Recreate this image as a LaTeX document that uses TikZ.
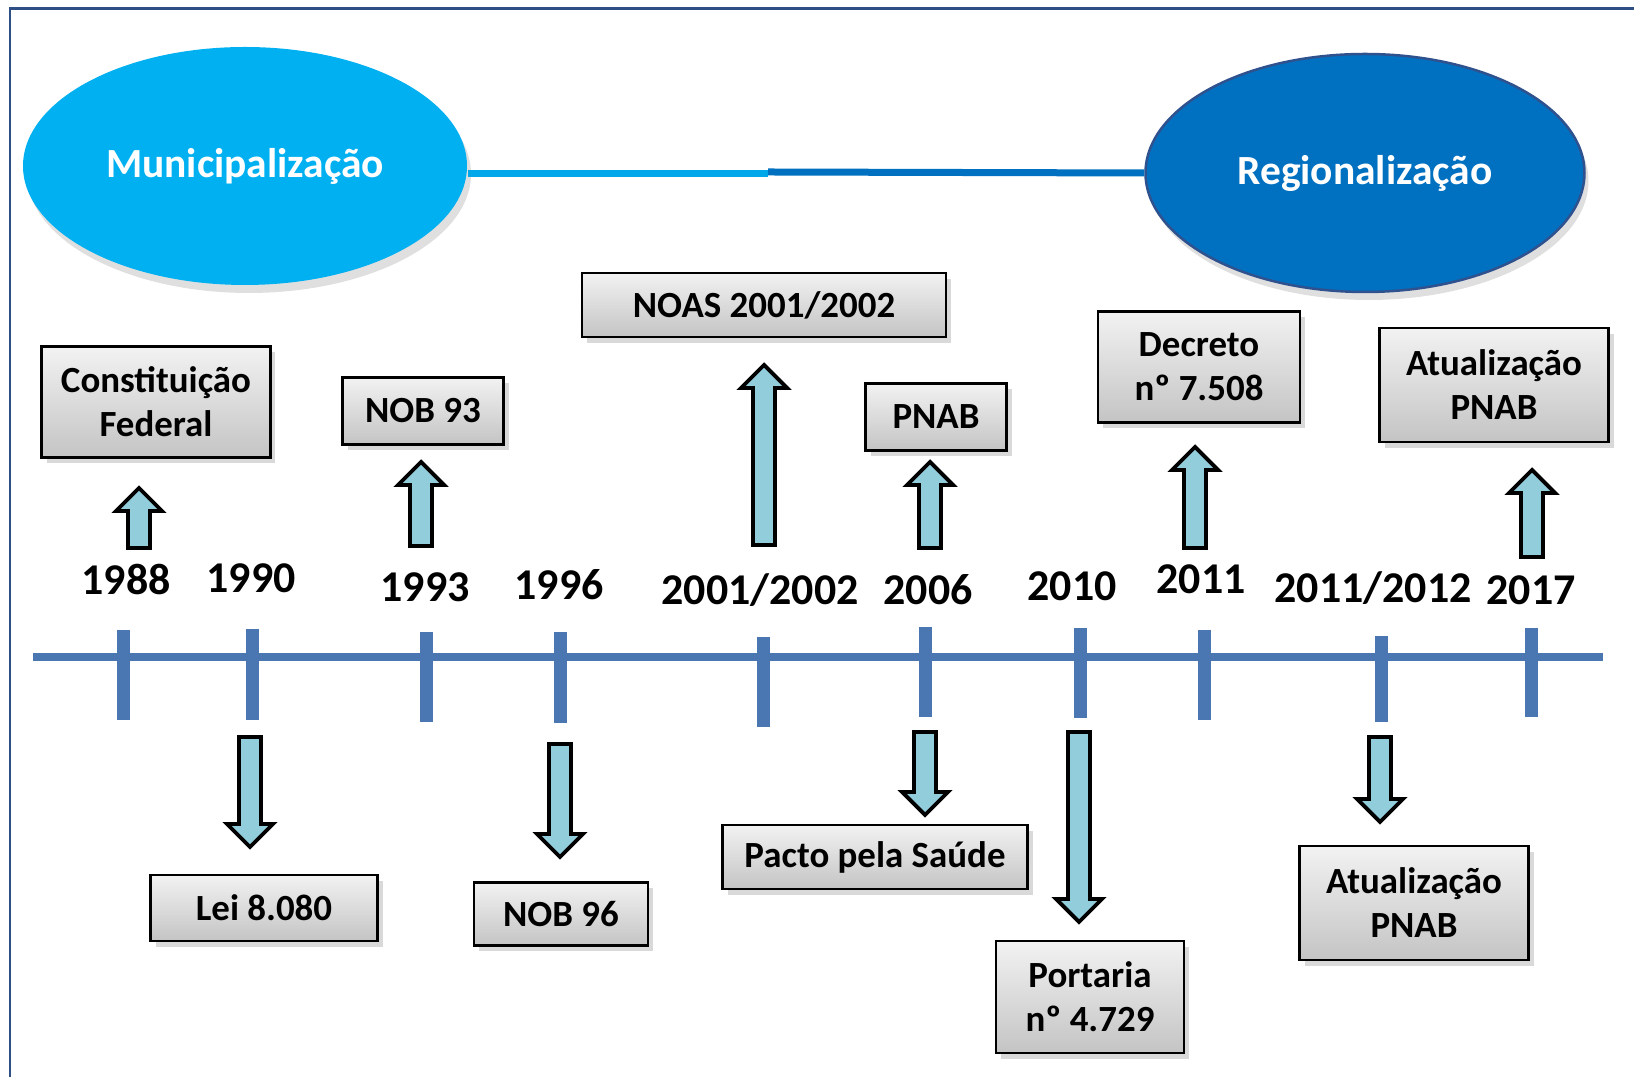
\documentclass[tikz,border=0pt]{standalone}
\usepackage{fontspec}
\setmainfont{Carlito}
\usepackage{tikz}
\usetikzlibrary{calc,shapes.geometric,shadows}
\definecolor{muniBlue}{HTML}{00B0F0}
\definecolor{regiBlue}{HTML}{0070C0}
\definecolor{regiEdge}{HTML}{2F528F}
\definecolor{lineBlue}{HTML}{4A76B2}
\definecolor{frameBlue}{HTML}{2E4F85}
\definecolor{arrFill}{HTML}{92CDDC}
\definecolor{boxTop}{HTML}{F2F2F2}
\definecolor{boxBot}{HTML}{C4C4C4}

% block arrow from tail #1 to tip #2
\newcommand{\blkarrow}[2]{%
  \draw[blk] let \p1=(#1), \p2=(#2), \p3=($(#2)!2.3mm!(#1)$) in
    (\x1-1.1mm,\y1) -- (\x1-1.1mm,\y3) -- (\x1-2.3mm,\y3) -- (\p2)
    -- (\x1+2.3mm,\y3) -- (\x1+1.1mm,\y3) -- (\x1+1.1mm,\y1) -- cycle;}

\begin{document}
\begin{tikzpicture}[x=0.1mm, y=-0.1mm,
  ell/.style={ellipse, text=white, font=\bfseries\fontsize{11.8}{14}\selectfont,
    drop shadow={opacity=0.25, shadow xshift=0.4mm, shadow yshift=-0.8mm}},
  box/.style={rectangle, draw=black, line width=0.25mm, top color=boxTop, bottom color=boxBot,
    align=center, inner sep=0pt, font=\bfseries\fontsize{10.5}{12.5}\selectfont,
    drop shadow={opacity=0.3, shadow xshift=0.5mm, shadow yshift=-0.6mm}},
  year/.style={font=\bfseries\fontsize{12.5}{14}\selectfont, inner sep=0pt},
  blk/.style={draw=black, line width=1.1pt, fill=arrFill},
  tick/.style={lineBlue, line width=1.3mm}]
\useasboundingbox (0,0) rectangle (1634,1077);
% --- frame ---
\draw[frameBlue, line width=0.3mm] (10,1100) -- (10,9) -- (1660,9);
% --- ellipses ---
\node[ell, fill=muniBlue, minimum width=44.4mm, minimum height=23.8mm] (muni) at (245,166) {Municipalização};
\node[ell, fill=regiBlue, draw=regiEdge, line width=0.25mm, minimum width=43.9mm, minimum height=23.8mm] (regi) at (1365,173) {Regionalização};
\coordinate (midA) at (768,174);
\coordinate (midB) at (768,172);
\draw[muniBlue!85!regiBlue, line width=0.7mm] (muni.east |- midA) -- (midA);
\draw[regiBlue, line width=0.7mm] (midB) -- (regi.west);
% --- timeline ---
\coordinate (tl0) at (33,657);
\coordinate (tl1) at (1603,657);
\draw[lineBlue, line width=0.8mm] (tl0) -- (tl1);
\foreach \x/\a/\b in {123/630/720, 252/629/720, 426/632/722, 560/632/723, 763/637/727,
  925/627/717, 1080/628/718, 1204/630/720, 1381/636/722, 1531/628/717}
  \draw[tick] (\x,\a) -- (\x,\b);
% --- years ---
\node[year] (y1988) at (126,580) {1988};
\node[year] (y1990) at (251,578) {1990};
\node[year] (y1993) at (425,587) {1993};
\node[year] (y1996) at (559,585) {1996};
\node[year] (y2001) at (760,590) {2001/2002};
\node[year] (y2006) at (928,590) {2006};
\node[year] (y2010) at (1072,586) {2010};
\node[year] (y2011) at (1201,579) {2011};
\node[year] (y2012) at (1373,588) {2011/2012};
\node[year] (y2017) at (1531,590) {2017};
% --- boxes above ---
\node[box, minimum width=22.9mm, minimum height=11.1mm] (cf) at (156,402) {Constituição\\Federal};
\node[box, minimum width=16.1mm, minimum height=6.7mm] (nob93) at (423,411) {NOB 93};
\node[box, minimum width=36.4mm, minimum height=6.4mm] (noas) at (764,305) {NOAS 2001/2002};
\node[box, minimum width=14.1mm, minimum height=6.7mm] (pnab) at (936,417) {PNAB};
\node[box, minimum width=20.2mm, minimum height=11.1mm] (decreto) at (1199,367) {Decreto\\nº 7.508};
\node[box, minimum width=22.9mm, minimum height=11.4mm] (atuA) at (1494,385) {Atualização\\PNAB};
% --- boxes below ---
\node[box, minimum width=22.7mm, minimum height=6.6mm] (lei) at (264,908) {Lei 8.080};
\node[box, minimum width=17.4mm, minimum height=6.3mm] (nob96) at (561,914) {NOB 96};
\node[box, minimum width=30.5mm, minimum height=6.4mm] (pacto) at (875,857) {Pacto pela Saúde};
\node[box, minimum width=18.8mm, minimum height=11.2mm] (portaria) at (1090,997) {Portaria\\nº 4.729};
\node[box, minimum width=22.9mm, minimum height=11.4mm] (atuB) at (1414,903) {Atualização\\PNAB};
% --- arrows up ---
\coordinate (s88) at (139,548);  \coordinate (t88) at (139,488);
\coordinate (s93) at (421,546);  \coordinate (t93) at (421,462);
\coordinate (s01) at (764,545);  \coordinate (t01) at (764,365);
\coordinate (s06) at (930,548);  \coordinate (t06) at (930,462);
\coordinate (s11) at (1195,548); \coordinate (t11) at (1195,447);
\coordinate (s17) at (1532,557); \coordinate (t17) at (1532,470);
\blkarrow{s88}{t88}
\blkarrow{s93}{t93}
\blkarrow{s01}{t01}
\blkarrow{s06}{t06}
\blkarrow{s11}{t11}
\blkarrow{s17}{t17}
% --- arrows down ---
\coordinate (s90) at (250,737);  \coordinate (t90) at (250,847);
\coordinate (s96) at (560,744);  \coordinate (t96) at (560,857);
\coordinate (d06) at (925,732);  \coordinate (e06) at (925,815);
\coordinate (s10) at (1079,732); \coordinate (t10) at (1079,922);
\coordinate (s12) at (1380,737); \coordinate (t12) at (1380,822);
\blkarrow{s90}{t90}
\blkarrow{s96}{t96}
\blkarrow{d06}{e06}
\blkarrow{s10}{t10}
\blkarrow{s12}{t12}
\end{tikzpicture}
\end{document}
